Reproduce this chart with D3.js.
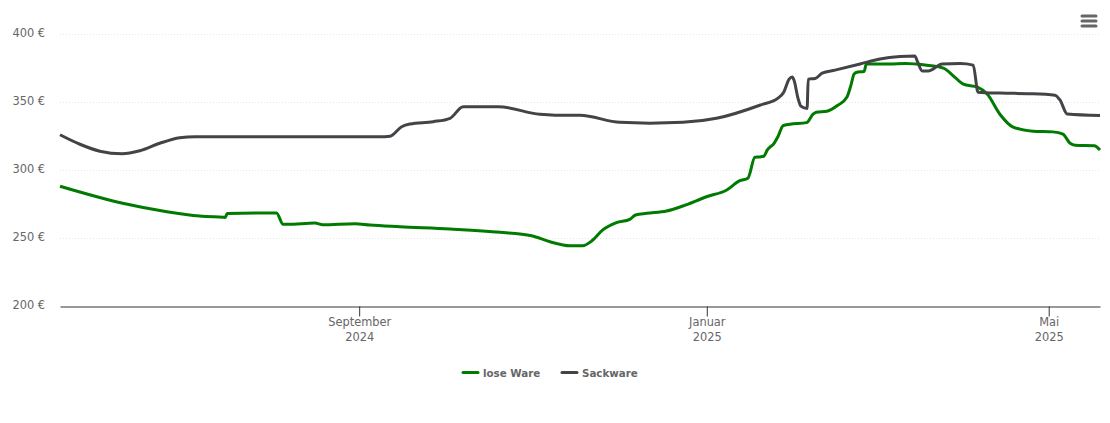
<!DOCTYPE html>
<html>
<head>
<meta charset="utf-8">
<script src="https://cdn.jsdelivr.net/npm/d3@7"></script>
<style>
  html, body { margin: 0; background: #fff; }
  svg { display: block; font-family: "DejaVu Sans", sans-serif; }
  .y-axis text, .x-axis text { fill: #666; font-size: 11.4px; }
  .y-axis .domain { display: none; }
  .grid { stroke: #e6e6e6; stroke-dasharray: 1 2; }
  .legend text { fill: #666; font-size: 10.3px; font-weight: bold; }
</style>
</head>
<body>
<svg id="chart" width="1110" height="423"></svg>
<script>
// days since 19 May 2024
const looseDays = [0, 22, 37.5, 49, 57.2, 58, 58.7, 76, 78.3, 80, 89.5, 92.2, 103.5, 108.8, 119.3, 136.9, 154.4, 165.5, 172, 179, 183.5, 186.6, 190.5, 195.3, 200, 202, 205.9, 212.9, 218.6, 226.9, 234, 238.6, 241.4, 243.9, 245.7, 247, 248.2, 250.6, 252, 253.8, 256.2, 262, 264.3, 265.4, 269.2, 273, 276.2, 277.6, 278.7, 280, 282.2, 283, 291.3, 296.6, 303.6, 310, 314, 317, 322, 325.4, 330, 334.5, 341.5, 348.5, 352, 354.5, 356.3, 363, 365];
const looseValues = [288.4, 275.9, 269.7, 266.5, 265.6, 265.5, 268.4, 268.8, 260.4, 260.4, 261.4, 260.1, 260.9, 259.9, 258.7, 257, 254.6, 252, 247.6, 244.7, 244.7, 248.2, 256.3, 261.6, 264.1, 267.3, 268.5, 270.2, 273.9, 280.7, 285.7, 292.5, 294.3, 309.7, 310, 310.5, 315, 320, 325, 333, 334, 335.2, 341.4, 342.9, 343.6, 348, 354, 362.8, 371, 372.4, 372.8, 378.3, 378.3, 378.6, 377.5, 375.3, 368.7, 363.5, 361.3, 356.2, 341, 331.9, 328.9, 328.4, 326.7, 320, 318.6, 318.2, 315];

const sackDays = [0, 7, 14, 21.8, 28, 35, 42, 47.4, 114, 115.8, 119.9, 122.8, 131, 136.9, 141.5, 153.8, 168.4, 173.7, 182.5, 196.5, 207, 218.6, 230.4, 245.6, 252, 254, 255.9, 257, 257.6, 259, 260, 262.2, 262.6, 265, 267.5, 272, 280.8, 287.8, 294.8, 300, 301, 302.6, 304.7, 309.6, 315.9, 320.5, 322.2, 330, 340.5, 349.2, 351, 353.5, 365];
const sackValues = [326.3, 319.3, 314.2, 312.3, 314.5, 320, 324.1, 324.9, 324.9, 325.2, 332.2, 334.2, 335.9, 338.4, 346.9, 346.9, 341.3, 340.7, 340.6, 335.4, 334.8, 335.4, 338.4, 348, 353.2, 357.6, 367.2, 368.7, 366.5, 353.2, 347.3, 345.5, 367.2, 367.6, 371.6, 373.8, 378.3, 382, 383.8, 384.2, 379.8, 373.2, 373.2, 378.3, 378.6, 377.5, 357.6, 356.9, 356.5, 355.4, 351.7, 341.5, 340.4];

const seriesNames = ['lose Ware', 'Sackware'];
const seriesColors = ['#007a00', '#434348'];
const yTicks = [200, 250, 300, 350, 400];
const xTickDates = ['2024-09-01', '2025-01-01', '2025-05-01'];
const xTickLabels = [['September', '2024'], ['Januar', '2025'], ['Mai', '2025']];

const start = new Date(Date.UTC(2024, 4, 19));
const end = new Date(Date.UTC(2025, 4, 19));
const dayToDate = (d) => new Date(start.getTime() + d * 864e5);

const svg = d3.select('#chart');
const x = d3.scaleUtc().domain([start, end]).range([60, 1100]);
const y = d3.scaleLinear().domain([200, 400]).range([306.5, 34.5]);

// gridlines
svg.append('g')
  .selectAll('line')
  .data(yTicks.slice(1))
  .join('line')
  .attr('class', 'grid')
  .attr('x1', x.range()[0])
  .attr('x2', x.range()[1])
  .attr('y1', (d) => y(d))
  .attr('y2', (d) => y(d));

const yAxis = d3.axisLeft(y).tickValues(yTicks).tickSize(0).tickPadding(0)
  .tickFormat((d) => `${d} €`);
svg.append('g')
  .attr('class', 'y-axis')
  .attr('transform', 'translate(45,-2)')
  .call(yAxis)
  .attr('font-family', null)
  .attr('font-size', null);

const tickDates = xTickDates.map((d) => new Date(`${d}T00:00:00Z`));
const xAxis = d3.axisBottom(x).tickValues(tickDates).tickSize(10).tickSizeOuter(0)
  .tickFormat(() => '');
const $xAxis = svg.append('g')
  .attr('class', 'x-axis')
  .attr('transform', 'translate(0,306.5)')
  .call(xAxis)
  .attr('font-family', null)
  .attr('font-size', null);
$xAxis.selectAll('.domain, line').attr('stroke', '#333');
$xAxis.selectAll('.tick text')
  .attr('y', 0)
  .attr('dy', 0)
  .each((d, i, node) => {
    const sel = d3.select(node[i]);
    xTickLabels[i].forEach((label, j) => {
      sel.append('tspan')
        .attr('x', 0)
        .attr('y', 19.5 + j * 15)
        .text(label);
    });
  });

const line = d3.line()
  .x((d) => x(dayToDate(d[0])))
  .y((d) => y(d[1]))
  .curve(d3.curveMonotoneX);

const seriesData = [d3.zip(looseDays, looseValues), d3.zip(sackDays, sackValues)];
svg.append('g')
  .selectAll('path')
  .data(seriesData)
  .join('path')
  .attr('fill', 'none')
  .attr('stroke', (d, i) => seriesColors[i])
  .attr('stroke-width', 3)
  .attr('stroke-linejoin', 'round')
  .attr('d', line);

// legend
const legendX = [463, 562];
const $legend = svg.append('g').attr('class', 'legend');
seriesNames.forEach((name, i) => {
  $legend.append('line')
    .attr('x1', legendX[i])
    .attr('x2', legendX[i] + 15)
    .attr('y1', 372.5)
    .attr('y2', 372.5)
    .attr('stroke', seriesColors[i])
    .attr('stroke-width', 3)
    .attr('stroke-linecap', 'round');
  $legend.append('text')
    .attr('x', legendX[i] + 20)
    .attr('y', 377)
    .text(name);
});

// export menu button
svg.append('g')
  .selectAll('line')
  .data([16, 21, 26])
  .join('line')
  .attr('x1', 1082)
  .attr('x2', 1096)
  .attr('y1', (d) => d)
  .attr('y2', (d) => d)
  .attr('stroke', '#666')
  .attr('stroke-width', 3)
  .attr('stroke-linecap', 'round');
</script>
</body>
</html>
